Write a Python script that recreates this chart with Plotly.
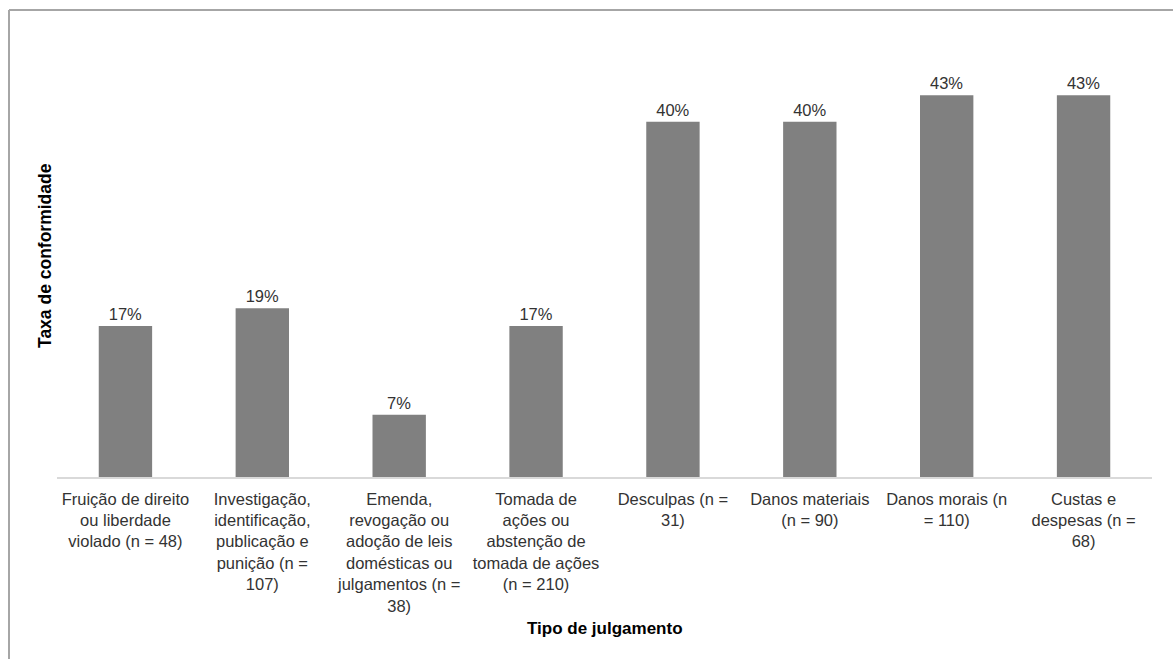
import plotly.graph_objects as go

categories = [
    "Fruição de direito<br>ou liberdade<br>violado (n = 48)",
    "Investigação,<br>identificação,<br>publicação e<br>punição (n =<br>107)",
    "Emenda,<br>revogação ou<br>adoção de leis<br>domésticas ou<br>julgamentos (n =<br>38)",
    "Tomada de<br>ações ou<br>abstenção de<br>tomada de ações<br>(n = 210)",
    "Desculpas (n =<br>31)",
    "Danos materiais<br>(n = 90)",
    "Danos morais (n<br>= 110)",
    "Custas e<br>despesas (n =<br>68)",
]
values = [0.17, 0.19, 0.07, 0.17, 0.40, 0.40, 0.43, 0.43]

W, H = 1173, 659
ml, mr, mt, mb = 57, 21, 33, 182
pw, ph = W - ml - mr, H - mt - mb

font = "Liberation Sans, Arial, sans-serif"

fig = go.Figure(go.Bar(
    x=categories, y=values,
    marker=dict(color="#808080", line=dict(width=0)),
    text=[f"{v:.0%}" for v in values],
    textposition="outside",
    textfont=dict(family=font, size=16.5, color="#333333"),
    cliponaxis=False,
    width=0.39,
))

def px_x(x):
    return (x - ml) / pw

def px_y(y):
    return (H - mb - y) / ph

fig.update_layout(
    width=W, height=H,
    margin=dict(l=ml, r=mr, t=mt, b=mb),
    paper_bgcolor="white", plot_bgcolor="white",
    showlegend=False,
    font=dict(family=font, size=16, color="#333333"),
    xaxis=dict(
        showline=True, linecolor="#d9d9d9", linewidth=1.5,
        ticks="", showgrid=False, tickangle=0,
        ticklabelstandoff=6,
        tickfont=dict(family=font, size=16.5, color="#333333"),
    ),
    yaxis=dict(
        range=[0, 0.5], showticklabels=False, showgrid=False,
        zeroline=False, showline=False, ticks="",
    ),
    annotations=[
        dict(text="<b>Tipo de julgamento</b>", xref="paper", yref="paper",
             x=0.5, y=px_y(628), showarrow=False,
             font=dict(family=font, size=17, color="#000000"),
             xanchor="center", yanchor="middle"),
        dict(text="<b>Taxa de conformidade</b>", xref="paper", yref="paper",
             x=px_x(45), y=px_y(256), showarrow=False, textangle=-90,
             font=dict(family=font, size=17.5, color="#000000"),
             xanchor="center", yanchor="middle"),
    ],
    shapes=[
        dict(type="line", xref="paper", yref="paper",
             x0=px_x(9), x1=px_x(W + 5), y0=px_y(10), y1=px_y(10),
             line=dict(color="#a6a6a6", width=2)),
        dict(type="line", xref="paper", yref="paper",
             x0=px_x(9), x1=px_x(9), y0=px_y(10), y1=px_y(H + 5),
             line=dict(color="#a6a6a6", width=2)),
    ],
)

fig.write_html("out.html")
